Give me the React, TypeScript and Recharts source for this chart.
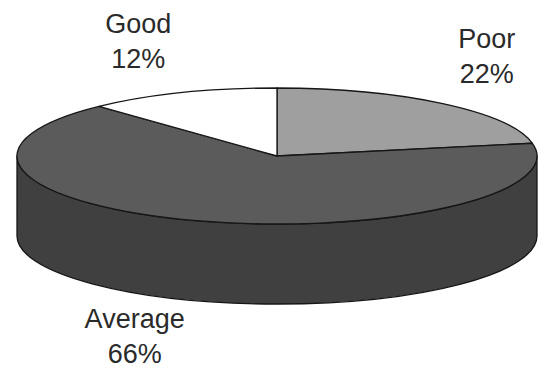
import { PieChart, Pie, Cell } from "recharts";

// rating shares, clockwise from 12 o'clock
const categories = ["Poor", "Average", "Good"];
const shares = [22, 66, 12];

const topColors = ["#9f9f9f", "#5b5b5b", "#ffffff"];
const wallColors = ["#666666", "#404040", "#bdbdbd"];

const data = categories.map((name, i) => ({ name, value: shares[i] }));

const W = 538;
const H = 374;
const CX = 277;
const CY = 156;
const RX = 260;
const RY = 68;
const DEPTH = 80;
const TILT = RY / RX;
const RAD = Math.PI / 180;
const EDGE = "#161616";

// where each label block sits relative to its rim anchor
const labelNudge: Record<string, [number, number]> = {
  Good: [-43, -60],
  Poor: [44, -56],
  Average: [-62, 27],
};

function pt(cx: number, cy: number, r: number, deg: number, dy = 0) {
  return [cx + r * Math.cos(deg * RAD), cy - r * TILT * Math.sin(deg * RAD) + dy];
}

function Wall(props: any) {
  const { cx, cy, outerRadius: r, startAngle, endAngle, fill } = props;
  const hi = Math.max(startAngle, endAngle);
  const lo = Math.min(startAngle, endAngle);
  const ry = r * TILT;
  const parts: string[] = [];
  for (const [a, b] of [
    [-180, 0],
    [180, 360],
    [-540, -360],
  ]) {
    const s = Math.min(hi, b);
    const e = Math.max(lo, a);
    if (s - e > 0.01) {
      const [x1, y1] = pt(cx, cy, r, s);
      const [x2, y2] = pt(cx, cy, r, e);
      parts.push(
        `M${x1},${y1} A${r},${ry} 0 0 1 ${x2},${y2} L${x2},${y2 + DEPTH} A${r},${ry} 0 0 0 ${x1},${y1 + DEPTH} Z`
      );
    }
  }
  if (!parts.length) return <g />;
  return <path d={parts.join(" ")} fill={fill} stroke={EDGE} strokeWidth={1.3} strokeLinejoin="round" />;
}

function TopFace(props: any) {
  const { cx, cy, outerRadius: r, startAngle, endAngle, fill } = props;
  const ry = r * TILT;
  const [x1, y1] = pt(cx, cy, r, startAngle);
  const [x2, y2] = pt(cx, cy, r, endAngle);
  const large = Math.abs(startAngle - endAngle) > 180 ? 1 : 0;
  const sweep = startAngle > endAngle ? 1 : 0;
  const d = `M${cx},${cy} L${x1},${y1} A${r},${ry} 0 ${large} ${sweep} ${x2},${y2} Z`;
  return <path d={d} fill={fill} stroke={EDGE} strokeWidth={1.3} strokeLinejoin="round" />;
}

function renderLabel(props: any) {
  const { cx, cy, outerRadius: r, midAngle, percent } = props;
  const name = props.payload?.name ?? props.name;
  const lower = Math.sin(midAngle * RAD) < 0;
  const [ax, ay] = pt(cx, cy, r, midAngle, lower ? DEPTH : 0);
  const [dx, dy] = labelNudge[name] ?? [0, 0];
  const x = ax + dx;
  const y = ay + dy;
  return (
    <text
      x={x}
      y={y}
      textAnchor="middle"
      fontFamily="'Liberation Sans', Arial, sans-serif"
      fontSize={27}
      fill="#2a2a2a"
    >
      <tspan x={x} y={y}>
        {name}
      </tspan>
      <tspan x={x} y={y + 35}>
        {`${Math.round(percent * 100)}%`}
      </tspan>
    </text>
  );
}

export default function App() {
  return (
    <div style={{ position: "absolute", left: 0, top: 0, width: W, height: H, background: "#fff" }}>
      <PieChart width={W} height={H} margin={{ top: 0, right: 0, bottom: 0, left: 0 }}>
        <Pie
          data={data}
          dataKey="value"
          nameKey="name"
          cx={CX}
          cy={CY}
          outerRadius={RX}
          startAngle={90}
          endAngle={-270}
          shape={Wall}
          isAnimationActive={false}
        >
          {data.map((d, i) => (
            <Cell key={d.name} fill={wallColors[i]} />
          ))}
        </Pie>
        <Pie
          data={data}
          dataKey="value"
          nameKey="name"
          cx={CX}
          cy={CY}
          outerRadius={RX}
          startAngle={90}
          endAngle={-270}
          shape={TopFace}
          label={renderLabel}
          labelLine={false}
          isAnimationActive={false}
        >
          {data.map((d, i) => (
            <Cell key={d.name} fill={topColors[i]} />
          ))}
        </Pie>
      </PieChart>
    </div>
  );
}
